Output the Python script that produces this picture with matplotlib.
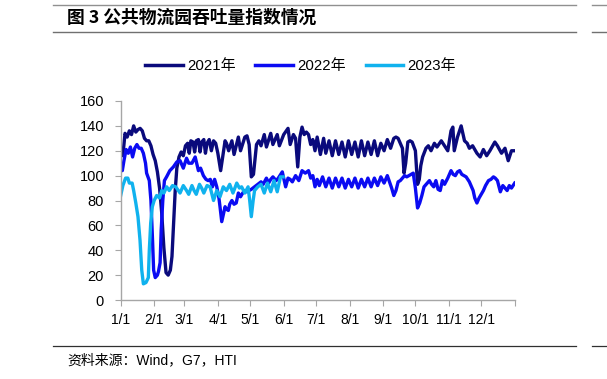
import matplotlib
matplotlib.use('Agg')
import matplotlib.pyplot as plt
from matplotlib.lines import Line2D

# ─── Data (day of year offset from 1/1, index value) ──────────────────────────
days_2021 = [0, 2, 4, 6, 8, 10, 12, 14, 16, 18, 20, 22, 24, 26, 28, 30, 32, 34, 36, 38,
             40, 42, 44, 46, 47.5, 49, 50.5, 52, 54, 56, 58, 60, 62, 63.5, 65, 67, 68.5,
             70, 72, 73.5, 75, 77, 78.5, 80, 82, 84, 86, 88, 90, 92.6, 94.5, 96.7, 98,
             100, 103, 105, 109, 111, 115, 117, 119, 121, 123, 125.8, 128, 130, 133, 135,
             139, 141, 145, 147, 151, 155, 157, 160, 162, 164, 166, 168, 170, 172, 174,
             176, 178, 180, 182, 185, 188, 190, 193, 196, 199, 202, 205, 208, 211, 214,
             217, 220, 223, 226, 229, 232, 235, 238, 241, 244, 247, 250, 253, 255, 257,
             259, 261, 262.5, 264, 266, 268, 270, 273, 275, 276.6, 278, 279.7, 282.8, 285,
             287.5, 290.6, 293, 297, 300, 303, 306, 307.7, 309, 312, 315.4, 318.5, 321,
             323, 326, 330, 333, 336, 339, 342, 346.6, 349, 352.8, 356, 359, 362, 365]
vals_2021 = [122, 116, 134, 131, 136, 133, 140, 135, 137, 138, 136, 130, 128, 128, 124, 117, 112, 103, 90, 70,
             42, 22, 20, 24, 35, 62, 88, 106, 115, 119, 116, 124, 126, 118, 128, 127, 119,
             128, 129, 119, 127, 129, 118, 126, 129, 120, 128, 126, 118, 104, 115, 128, 126,
             120, 128, 117, 131, 120, 131, 132, 125, 99, 101, 125, 128, 124, 133, 123,
             134, 125, 133, 124, 133, 138, 125, 133, 130, 107, 131, 139, 133, 135, 133,
             125, 129, 120, 131, 117, 130, 118, 128, 116, 128, 117, 127, 115, 128, 117,
             127, 115, 128, 116, 127, 117, 128, 116, 126, 120, 129, 122, 130, 131, 130,
             126, 122, 102, 110, 127, 128, 127, 120, 93, 97, 108, 115, 122, 124,
             120, 126, 123, 128, 124, 120, 136, 139, 120, 131, 140, 128, 126,
             122, 124, 118, 115, 121, 116, 120, 127, 124, 118, 122, 112, 120, 120]

days_2022 = [0, 1.5, 3, 5, 7, 9, 11, 13, 15, 17, 19, 21, 23, 24, 26.5, 28, 29.5, 30.5, 32, 34,
             35, 36.5, 37.5, 39, 40.5, 42.5, 45.5, 48.8, 52, 55, 58, 61, 63, 66, 69, 72, 74,
             76.6, 79, 81, 83, 85, 87, 89, 91, 92, 93.6, 96.7, 98, 99.7, 101, 103, 105, 107,
             109, 111, 113, 115, 117, 119, 121, 124, 127, 130, 132, 135, 137, 139, 141, 144,
             146, 149.7, 152.8, 155, 157, 159, 162, 165, 168, 171, 174, 176, 178, 180, 182,
             184, 187, 190, 193, 196, 199, 202, 205, 208, 211, 214, 217, 220, 223, 226, 229,
             232, 235, 238, 241, 244, 247, 249, 251, 253, 255, 257, 259, 261, 263, 265, 267,
             269, 271, 273, 275, 277, 279, 281, 284, 286, 288, 290, 292, 294, 296, 298, 300,
             303, 306, 308, 310, 312, 314, 316, 318, 320, 323, 325, 326.5, 328, 330, 332,
             334, 336, 338, 340.7, 343, 345.3, 347, 349, 351.7, 354, 356, 358, 360, 362, 365]
vals_2022 = [108, 104, 112, 121, 118, 123, 115, 122, 125, 122, 122, 118, 110, 102, 96, 80, 48, 24, 18, 20,
             23, 30, 56, 80, 96, 99, 104, 107, 111, 112, 106, 114, 110, 110, 115, 104, 106,
             100, 97, 96, 97, 91, 97, 91, 82, 75, 63, 75, 73, 72, 77, 80, 77, 78,
             86, 83, 86, 88, 87, 88, 89, 91, 93, 95, 93, 98, 94, 97, 99, 96,
             98, 103, 91, 98, 97, 95, 100, 96, 104, 102, 104, 98, 100, 91, 97,
             92, 99, 91, 98, 90, 98, 91, 98, 90, 97, 91, 98, 90, 97, 91, 98,
             91, 98, 92, 99, 94, 100, 95, 90, 84, 88, 95, 96, 98, 100, 99, 100,
             101, 102, 90, 74, 78, 84, 91, 94, 96, 93, 91, 96, 89, 88, 96, 93,
             98, 104, 101, 100, 103, 104, 101, 100, 99, 95, 91, 88, 82, 78, 82,
             85, 88, 92, 96, 97, 99, 98, 96, 87, 92, 90, 88, 92, 90, 94]

days_2023 = [0, 2, 4.5, 6.6, 8, 10.6, 12, 14, 16, 17.9, 19.5, 21, 23.4, 25.6, 26.5, 27.8, 29.3,
             31, 33.3, 36, 38, 40, 42.6, 45, 48, 51, 55, 58, 61, 63, 66, 68, 70, 73, 75, 77,
             80, 82.8, 86, 89, 92, 95, 98, 101, 104, 107.5, 110, 112, 115, 118, 119.5, 121,
             122.7, 124, 127, 130, 133, 136, 139, 142, 145, 148, 150.5]
vals_2023 = [84, 92, 98, 98, 94, 94, 88, 78, 67, 48, 24, 13, 14, 18, 40, 62, 75,
             80, 84, 82, 88, 86, 91, 88, 92, 91, 86, 92, 88, 85, 92, 88, 85, 93, 90, 86,
             92, 91, 80, 88, 83, 91, 88, 93, 86, 94, 90, 91, 86, 91, 80, 67,
             80, 88, 91, 93, 86, 94, 87, 96, 87, 99, 99]

month_starts = [0, 31, 59, 90, 120, 151, 181, 212, 243, 273, 304, 334]
month_labels = ["1/1", "2/1", "3/1", "4/1", "5/1", "6/1", "7/1", "8/1", "9/1", "10/1", "11/1", "12/1"]
y_ticks = [0, 20, 40, 60, 80, 100, 120, 140, 160]

C_2021 = "#0A0A7C"
C_2022 = "#0B0BF2"
C_2023 = "#10B2EE"
AXIS_GRAY = "#A6A6A6"

plt.rcParams['font.family'] = ['Liberation Sans', 'Noto Sans CJK SC']

W, H = 607, 379
fig = plt.figure(figsize=(W / 100, H / 100), dpi=100)
fig.patch.set_facecolor("white")
ax = fig.add_axes([120.7 / W, 1 - 300 / H, 394 / W, 199 / H])

lw = 2.4
ax.plot(days_2021, vals_2021, color=C_2021, lw=lw, solid_joinstyle="round")
ax.plot(days_2022, vals_2022, color=C_2022, lw=lw, solid_joinstyle="round")
ax.plot(days_2023, vals_2023, color=C_2023, lw=lw, solid_joinstyle="round")

ax.set_xlim(0, 365)
ax.set_ylim(0, 160)
ax.set_xticks(month_starts + [365])
ax.set_xticklabels(month_labels + [""], fontsize=10)
ax.set_yticks(y_ticks)
ax.set_yticklabels([str(v) for v in y_ticks], fontsize=10.5)
for side in ("top", "right"):
    ax.spines[side].set_visible(False)
for side in ("left", "bottom"):
    ax.spines[side].set_color(AXIS_GRAY)
    ax.spines[side].set_linewidth(1.0)
ax.tick_params(axis="y", direction="out", length=4, color=AXIS_GRAY, pad=8)
ax.tick_params(axis="x", direction="out", length=4, color=AXIS_GRAY, pad=5)

# Legend
handles = [Line2D([], [], color=c, lw=2.5) for c in (C_2021, C_2022, C_2023)]
fig.legend(handles, ["2021年", "2022年", "2023年"], loc="center",
           bbox_to_anchor=(300.5 / W, 1 - 66 / H), ncol=3, frameon=False,
           fontsize=10.8, handlelength=2.5, handletextpad=0.27, columnspacing=1.33,
           borderpad=0, borderaxespad=0)

# Title block and source lines (incl. edge of neighbouring column)
def hline(x0, x1, y, color, lw):
    fig.add_artist(Line2D([x0 / W, x1 / W], [1 - y / H] * 2, color=color, lw=lw))

hline(53, 576, 5, "#909090", 1.0)
hline(53, 576, 32, "#707070", 1.0)
hline(592, W, 5, "#909090", 1.0)
hline(592, W, 32, "#707070", 1.0)
fig.text(67 / W, 1 - 18 / H, "图 3 公共物流园吞吐量指数情况", fontsize=12.8,
         fontweight="bold", va="center", ha="left", family=['Noto Sans CJK SC'])

hline(53, 576, 346, "#303030", 0.9)
hline(592, W, 346, "#303030", 0.9)
fig.text(67 / W, 1 - 360 / H, "资料来源：Wind，G7，HTI", fontsize=10,
         va="center", ha="left", family=['Liberation Sans', 'Noto Sans CJK SC'])

fig.savefig("out.png", dpi=100, facecolor="white")
